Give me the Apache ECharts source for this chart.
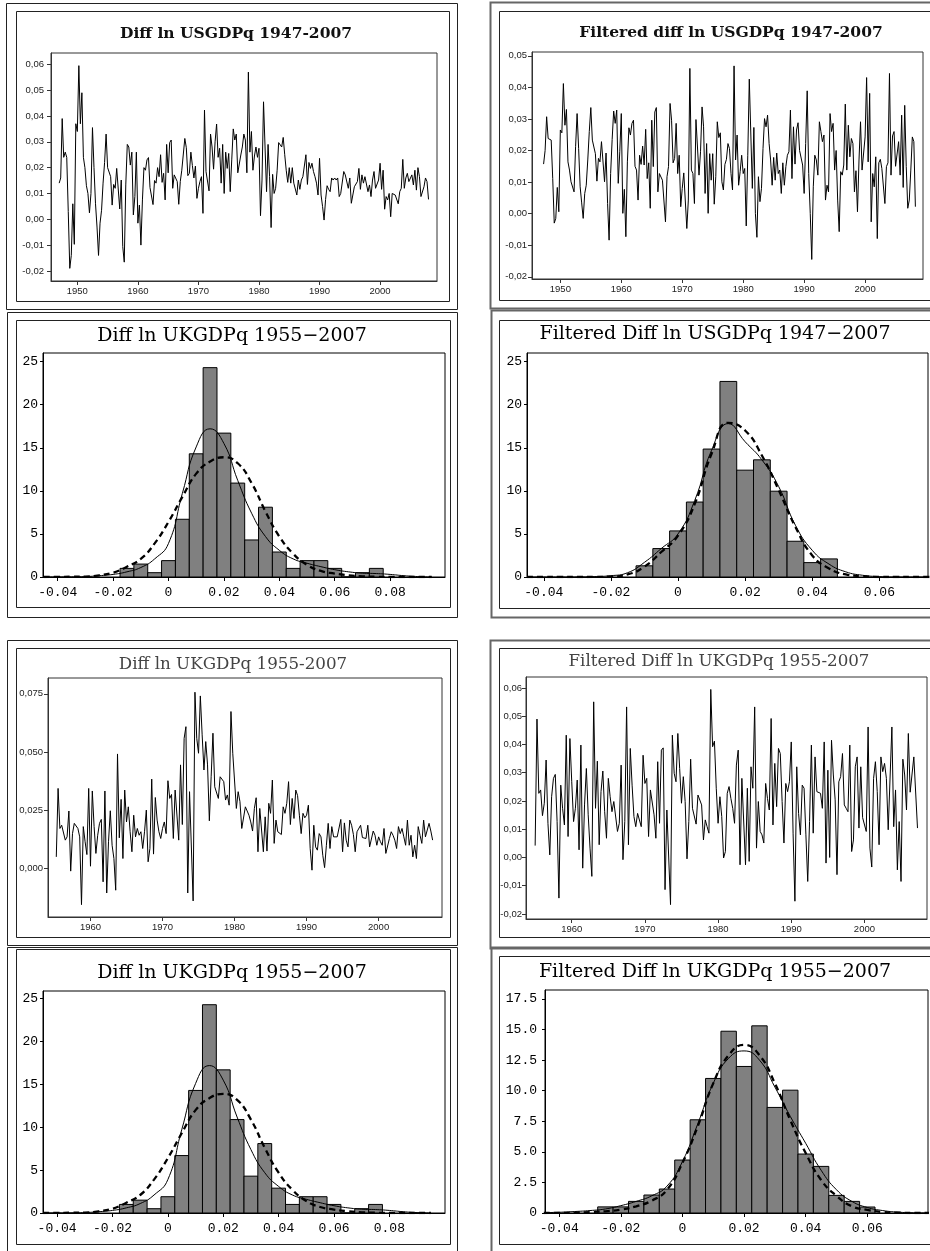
<!DOCTYPE html>
<html><head><meta charset="utf-8">
<script src="https://cdn.jsdelivr.net/npm/echarts@6/dist/echarts.min.js"></script>
<style>html,body{margin:0;padding:0;background:#fff}#c{width:930px;height:1251px}</style>
</head><body><div id="c"></div>
<script>
// ---------- time series data (quarterly) ----------
const usDiffStart = 1947.0;
const usDiff = [0.014,0.016,0.039,0.024,0.026,0.024,0.003,-0.019,-0.014,0.006,-0.0097,0.037,0.034,0.0595,0.037,0.049,0.024,0.020,0.013,0.010,0.0025,0.010,0.0355,0.020,0.006,-0.003,-0.014,-0.0015,0.0035,0.014,0.022,0.033,0.020,0.020,0.0165,0.0055,0.0135,0.012,0.0197,0.020,0.004,0.0152,-0.0106,-0.0166,0.0133,0.029,0.028,0.021,0.026,0.0017,0.0088,0.026,-0.0015,0.0055,-0.010,0.0075,0.020,0.019,0.023,0.0239,0.0123,0.0116,0.0057,0.015,0.014,0.020,0.0165,0.025,0.0143,0.0178,0.0075,0.029,0.018,0.0297,0.0307,0.012,0.0172,0.0172,0.0146,0.0058,0.0146,0.019,0.0185,0.0313,0.0277,0.0169,0.0178,0.026,0.0208,0.016,0.0206,0.0081,0.012,0.0146,0.0165,0.0023,0.0423,0.0185,0.0178,0.011,0.033,0.028,0.0194,0.030,0.0369,0.024,0.0275,0.014,0.029,0.010,0.026,0.0197,0.0255,0.0107,0.023,0.035,0.0307,0.033,0.018,0.018,0.0249,0.028,0.033,0.0307,0.018,0.057,0.026,0.034,0.019,0.0245,0.028,0.024,0.0275,0.0014,0.0152,0.0455,0.0455,0.0107,0.029,0.0165,-0.0032,0.0174,0.010,0.012,0.019,0.0297,0.029,0.028,0.0317,0.025,0.019,0.0143,0.020,0.014,0.020,0.014,0.0146,0.0094,0.0152,0.0116,0.0152,0.0165,0.017,0.025,0.0135,0.022,0.0197,0.0217,0.0185,0.0165,0.014,0.0094,0.0236,0.0094,0.005,-0.0003,0.0077,0.013,0.0116,0.0107,0.016,0.0152,0.016,0.0152,0.016,0.0088,0.010,0.0094,0.0185,0.0172,0.0172,0.012,0.016,0.0062,0.0055,0.0126,0.0126,0.0146,0.0197,0.0116,0.0172,0.014,0.0165,0.0165,0.0107,0.0133,0.0088,0.0152,0.0185,0.012,0.0126,0.0152,0.0217,0.0116,0.019,0.0039,0.0088,0.0075,0.010,0.001,0.010,0.010,0.0094,0.009,0.006,0.0107,0.012,0.0232,0.012,0.016,0.0178,0.0146,0.0146,0.0172,0.0133,0.019,0.0113,0.020,0.0165,0.0088,0.0094,0.0126,0.016,0.0146,0.0077];

const usFiltStart = 1947.25;
const usFilt = [0.0157,0.020,0.0307,0.0238,0.0241,0.0233,0.0111,-0.003,-0.0015,0.0083,0.0006,0.0265,0.0256,0.0412,0.028,0.033,0.0164,0.0138,0.0101,0.0096,0.0069,0.0212,0.0317,0.0206,0.0085,0.0034,-0.0015,0.0064,0.0090,0.0170,0.026,0.0336,0.0233,0.0233,0.019,0.0103,0.0175,0.0164,0.0228,0.0233,0.0101,0.0192,0.0032,-0.0084,0.0127,0.0235,0.0325,0.0286,0.0328,0.0096,0.0196,0.0317,0.0001,0.0077,-0.0073,0.0164,0.0272,0.0249,0.0286,0.0296,0.0150,0.0138,0.0043,0.0185,0.0156,0.0214,0.0154,0.0267,0.0111,0.0161,0.0017,0.0296,0.0149,0.0322,0.0336,0.0069,0.0127,0.0127,0.0106,0.0106,-0.0026,0.0117,0.0149,0.0349,0.0296,0.0161,0.0175,0.0286,0.0127,0.0185,0.0022,0.0080,0.0129,0.0133,-0.0047,0.0043,0.046,0.0138,0.0127,0.0032,0.0298,0.0296,0.0122,0.0196,0.0338,0.0275,0.0064,0.0222,0.0001,0.019,0.0106,0.019,0.0030,0.0117,0.0291,0.0241,0.0256,0.0101,0.0075,0.0156,0.0172,0.0222,0.0206,0.0127,0.0075,0.0468,0.0170,0.0249,0.0090,0.0133,0.0185,0.0127,0.0143,-0.0039,0.0185,0.0426,0.0431,0.0080,0.0273,0.0001,-0.0075,0.0117,0.0038,0.0080,0.0206,0.0301,0.0275,0.0312,0.0222,0.0170,0.0090,0.0178,0.0106,0.0192,0.0127,0.0138,0.0064,0.0161,0.0090,0.0149,0.0185,0.0196,0.0328,0.0111,0.0275,0.0157,0.0265,0.0288,0.020,0.0196,0.0154,0.0064,0.0222,0.0389,0.0127,0.0001,-0.0145,0.0085,0.0185,0.0170,0.0122,0.0291,0.026,0.0228,0.0249,0.0043,0.009,0.0069,0.0317,0.026,0.0286,0.0138,0.020,0.0043,-0.0057,0.0133,0.0122,0.0154,0.0347,0.0138,0.028,0.018,0.0238,0.0222,0.0069,0.0136,0.0006,0.017,0.0291,0.0138,0.0138,0.0243,0.0431,0.0164,0.0381,-0.0026,0.0127,0.0085,0.018,-0.0079,0.0161,0.0172,0.0143,0.0138,0.0032,0.0149,0.0161,0.0444,0.0122,0.0246,0.026,0.015,0.0149,0.0228,0.0122,0.0312,0.0083,0.0343,0.0149,0.0017,0.0043,0.0138,0.0243,0.0228,0.0022];

const ukDiffStart = 1955.25;
const ukDiff = [0.005,0.0344,0.0172,0.0186,0.0186,0.0122,0.0136,0.0247,-0.0011,0.015,0.0194,0.020,0.0172,0.0136,-0.0155,0.018,0.0115,0.006,0.0344,0.001,0.0333,0.018,0.0065,0.0143,0.0194,0.0211,-0.0057,0.0333,-0.0105,0.0115,0.0248,0.010,0.0043,-0.0093,0.0492,0.0132,0.0297,0.0043,0.0337,0.020,0.0265,0.0158,0.0072,0.0229,0.0136,0.0172,0.0143,0.0158,0.0086,0.0158,0.0251,0.0029,0.0086,0.0384,0.0062,0.0305,0.0208,0.0158,0.0129,0.0172,0.020,0.015,0.0377,0.0301,0.0318,0.0129,0.0337,0.033,0.0122,0.0445,0.0189,0.0559,0.0609,-0.0105,0.033,0.0323,-0.0139,0.0757,0.0559,0.0495,0.0741,0.0574,0.0423,0.0545,0.0445,0.0205,0.0394,0.0581,0.0351,0.0344,0.0301,0.0394,0.0402,0.0373,0.0294,0.0316,0.0272,0.0674,0.0495,0.0495,0.0258,0.033,0.0287,0.0172,0.0165,0.0265,0.0265,0.0229,0.020,0.0161,0.0258,0.0304,0.0072,0.0258,0.0251,0.0072,0.0222,0.0075,0.028,0.0237,0.038,0.0108,0.0208,0.0158,0.0158,0.0146,0.0265,0.0237,0.028,0.0373,0.0189,0.0301,0.0215,0.0337,0.0313,0.0229,0.015,0.0237,0.0218,0.0229,0.0272,0.0086,-0.0007,0.0186,0.0093,0.0079,0.015,0.0136,0.0057,0.0004,0.010,0.0194,0.0086,0.018,0.0136,0.0136,0.0136,0.0136,0.0211,0.0072,0.0196,0.0122,0.0093,0.0208,0.0186,0.0146,0.0072,0.0158,0.0165,0.0186,0.0133,0.0132,0.0129,0.0186,0.0093,0.010,0.0161,0.0143,0.010,0.0136,0.0115,0.010,0.0172,0.0065,0.0057,0.0129,0.0158,0.0143,0.0122,0.0086,0.018,0.015,0.0172,0.0136,0.010,0.0208,0.010,0.0143,0.005,0.010,0.0043,0.018,0.0143,0.0108,0.0208,0.0136,0.0143,0.0194,0.0161,0.0122];

const ukFiltStart = 1955.0;
const ukFilt = [0.0042,0.049,0.0227,0.0239,0.0148,0.0192,0.0345,0.0121,0.0009,0.0215,0.028,0.0294,0.0127,-0.0144,0.0256,0.0174,0.0115,0.0433,0.0074,0.0421,0.0268,0.0127,0.0174,0.0274,0.0027,0.0398,-0.0038,0.0186,0.0315,0.0151,0.0033,-0.0067,0.0551,0.0174,0.0341,0.0045,0.0233,0.0306,0.0162,0.0068,0.028,0.0215,0.0162,0.0198,0.0198,0.0092,0.0121,0.0327,-0.0008,0.0127,0.0533,0.0045,0.0386,0.0256,0.0145,0.0109,0.0156,0.0162,0.0109,0.0362,0.0262,0.028,0.0074,0.0239,0.0245,0.0151,0.0068,0.0339,0.0121,0.038,0.0388,-0.0114,0.0168,0.0162,-0.0167,0.0433,0.0298,0.0268,0.0439,0.0315,0.0192,0.0286,0.0198,-0.0005,0.0127,0.0348,0.0174,0.018,0.0118,0.0221,0.0215,0.0186,0.0062,0.0133,0.0109,0.0086,0.0595,0.0392,0.0412,0.0245,0.0121,0.0215,0.0145,-0.0002,0.0021,0.0227,0.0251,0.0209,0.0174,0.0121,0.0327,0.038,-0.0026,0.028,0.0286,-0.0026,0.0245,-0.0014,0.0321,0.0245,0.0533,0.0033,0.0198,0.0092,0.008,0.0051,0.0262,0.0209,0.0168,0.0492,0.0115,0.0333,0.018,0.0386,0.0368,0.0198,0.0051,0.0262,0.0233,0.0268,0.0409,0.0086,-0.0155,0.0321,0.0156,0.008,0.0256,0.0245,0.008,-0.0085,0.0127,0.0398,0.0086,0.0356,0.0233,0.0227,0.0227,0.0174,0.0409,-0.002,0.0309,0.0,0.0415,0.0292,0.0204,-0.0061,0.0268,0.0286,0.0368,0.0186,0.0174,0.0162,0.0398,0.0021,0.0062,0.0321,0.0356,0.0104,0.0321,0.0141,0.0136,0.0092,0.0462,0.0033,-0.0034,0.028,0.0339,0.0233,0.0045,0.0356,0.0304,0.0333,0.028,0.0098,0.0098,0.0462,0.0109,0.0239,-0.0044,0.0127,-0.0085,0.0348,0.0292,0.0168,0.0439,0.0231,0.0227,0.0356,0.0356,0.0104];

// ---------- histogram data (percent) ----------
const binWidth = 0.005;
const ukHistCenters = [-0.015,-0.01,-0.005,0,0.005,0.01,0.015,0.02,0.025,0.03,0.035,0.04,0.045,0.05,0.055,0.06,0.065,0.07,0.075];
const ukHistPct = [1.0,1.5,0.5,1.9,6.7,14.3,24.3,16.7,10.9,4.3,8.1,2.9,1.0,1.9,1.9,1.0,0,0.5,1.0];
const ukCurveX = [-0.045,-0.04,-0.035,-0.03,-0.025,-0.02,-0.015,-0.01,-0.005,0,0.005,0.01,0.015,0.02,0.025,0.03,0.035,0.04,0.045,0.05,0.055,0.06,0.065,0.07,0.075,0.08,0.085,0.09,0.095];
const ukKernel = [0,0.01,0.02,0.05,0.15,0.3,0.6,1.1,2.1,3.9,9.7,15.1,17.2,15.5,11.2,7.4,4.7,3.1,2.1,1.6,1.2,0.85,0.6,0.45,0.4,0.3,0.15,0.05,0];
const ukNormal = [0,0.01,0.03,0.05,0.2,0.5,1.2,2.1,3.9,6.4,9.3,12.0,13.4,13.9,13.2,10.9,7.6,4.7,2.7,1.4,0.7,0.4,0.2,0.08,0.03,0,0,0,0];

const usfHistCenters = [-0.01,-0.005,0,0.005,0.01,0.015,0.02,0.025,0.03,0.035,0.04,0.045];
const usfHistPct = [1.3,3.3,5.35,8.7,14.85,22.7,12.4,13.6,9.96,4.15,1.67,2.1];
const usfCurveX = [-0.045,-0.04,-0.035,-0.03,-0.025,-0.02,-0.015,-0.01,-0.005,0,0.005,0.01,0.015,0.02,0.025,0.03,0.035,0.04,0.045,0.05,0.055,0.06,0.065,0.07,0.075];
const usfKernel = [0,0,0,0.01,0.05,0.15,0.5,1.7,3.3,5.0,8.9,14.7,17.8,15.7,13.6,10.5,6.0,3.1,1.5,0.6,0.2,0.05,0,0,0];
const usfNormal = [0,0,0,0,0.01,0.05,0.3,1.2,2.9,4.8,8.5,14.3,17.9,17.0,14.1,10.1,5.8,2.5,1.0,0.3,0.1,0,0,0,0];

const ukfHistCenters = [-0.025,-0.02,-0.015,-0.01,-0.005,0,0.005,0.01,0.015,0.02,0.025,0.03,0.035,0.04,0.045,0.05,0.055,0.06];
const ukfHistPct = [0.5,0.5,0.95,1.47,1.96,4.33,7.62,11.0,14.86,11.98,15.3,8.63,10.04,4.82,3.81,1.44,0.95,0.49];
const ukfCurveX = [-0.045,-0.04,-0.035,-0.03,-0.025,-0.02,-0.015,-0.01,-0.005,0,0.005,0.01,0.015,0.02,0.025,0.03,0.035,0.04,0.045,0.05,0.055,0.06,0.065,0.07,0.075,0.08];
const ukfKernel = [0.03,0.06,0.12,0.2,0.33,0.6,0.95,1.4,2.2,4.2,7.3,10.6,12.65,13.25,12.5,10.3,7.9,5.7,3.5,1.9,0.95,0.45,0.2,0.07,0.02,0];
const ukfNormal = [0,0.01,0.03,0.07,0.14,0.27,0.55,1.0,1.9,4.1,7.1,10.6,12.9,13.75,12.9,10.6,7.6,4.9,2.7,1.4,0.55,0.25,0.08,0.03,0,0];

// ---------- tick labels ----------
const yearTicksUS = [1950,1960,1970,1980,1990,2000];
const yearTicksUK = [1960,1970,1980,1990,2000];
const usDiffYTicks = [-0.02,-0.01,0,0.01,0.02,0.03,0.04,0.05,0.06];
const usFiltYTicks = [-0.02,-0.01,0,0.01,0.02,0.03,0.04,0.05];
const ukDiffYTicks = [0,0.025,0.05,0.075];
const ukFiltYTicks = [-0.02,-0.01,0,0.01,0.02,0.03,0.04,0.05,0.06];
const histYTicks25 = [0,5,10,15,20,25];
const histYTicks175 = [0,2.5,5,7.5,10,12.5,15,17.5];
const histXTicksUK = [-0.04,-0.02,0,0.02,0.04,0.06,0.08];
const histXTicksUS = [-0.04,-0.02,0,0.02,0.04,0.06];

const titles = [
  'Diff ln USGDPq 1947-2007',
  'Filtered diff ln USGDPq 1947-2007',
  'Diff ln UKGDPq 1955\u22122007',
  'Filtered Diff ln USGDPq 1947\u22122007',
  'Diff ln UKGDPq 1955-2007',
  'Filtered Diff ln UKGDPq 1955-2007',
  'Diff ln UKGDPq 1955\u22122007',
  'Filtered Diff ln UKGDPq 1955\u22122007'
];

// ---------- build ----------
const quarterly = (start, arr) => arr.map((v, i) => [start + i * 0.25, v]);
const pairs = (xs, ys) => xs.map((x, i) => [x, ys[i]]);

const TSFONT = 'Liberation Sans';
const HFONT = 'Liberation Mono';

function tsX(g, min, max, ticks) {
  return { type: 'value', gridIndex: g, min, max,
    axisLine: { show: true, onZero: false, lineStyle: { color: '#333', width: 1 } },
    splitLine: { show: false },
    axisTick: { show: true, length: 4, customValues: ticks, lineStyle: { color: '#333' } },
    axisLabel: { customValues: ticks, fontFamily: TSFONT, fontSize: 9.5, color: '#222', margin: 5,
      formatter: v => String(Math.round(v)) } };
}
function tsY(g, min, max, ticks, dec, margin) {
  return { type: 'value', gridIndex: g, min, max,
    axisLine: { show: true, onZero: false, lineStyle: { color: '#333', width: 1 } },
    splitLine: { show: false },
    axisTick: { show: true, length: 4, customValues: ticks, lineStyle: { color: '#333' } },
    axisLabel: { customValues: ticks, fontFamily: TSFONT, fontSize: 9.5, color: '#222', margin,
      formatter: v => v.toFixed(dec).replace('.', ',') } };
}
function hX(g, min, max, ticks) {
  return { type: 'value', gridIndex: g, min, max,
    axisLine: { show: true, onZero: false, lineStyle: { color: '#000', width: 1 } },
    splitLine: { show: false },
    axisTick: { show: true, length: 4, customValues: ticks, lineStyle: { color: '#000' } },
    axisLabel: { customValues: ticks, fontFamily: HFONT, fontSize: 13, color: '#000', margin: 9,
      formatter: v => Math.abs(v) < 1e-9 ? '0' : v.toFixed(2) } };
}
function hY(g, min, max, ticks, dec, margin) {
  return { type: 'value', gridIndex: g, min, max,
    axisLine: { show: true, onZero: false, lineStyle: { color: '#000', width: 1 } },
    splitLine: { show: false },
    axisTick: { show: true, length: 3, customValues: ticks, lineStyle: { color: '#000' } },
    axisLabel: { customValues: ticks, fontFamily: HFONT, fontSize: 13, color: '#000', margin,
      formatter: v => Math.abs(v) < 1e-9 ? '0' : v.toFixed(dec) } };
}
function grid(left, top, width, height, color) {
  return { left, top, width, height, show: true, borderColor: color, borderWidth: 1,
    backgroundColor: '#fff', containLabel: false, outerBoundsMode: 'none' };
}
function tsSeries(g, data) {
  return { type: 'line', xAxisIndex: g, yAxisIndex: g, data, showSymbol: false, symbol: 'none',
    lineStyle: { color: '#000', width: 1 }, animation: false, z: 3 };
}
function barsSeries(g, centers, pct) {
  return { type: 'custom', xAxisIndex: g, yAxisIndex: g, data: pairs(centers, pct), animation: false, z: 2,
    renderItem: (params, api) => {
      const c = api.value(0), h = api.value(1);
      const p0 = api.coord([c - binWidth / 2, h]);
      const p1 = api.coord([c + binWidth / 2, 0]);
      return { type: 'rect', shape: { x: p0[0], y: p0[1], width: p1[0] - p0[0], height: p1[1] - p0[1] },
        style: { fill: '#808080', stroke: '#000', lineWidth: 1 } };
    } };
}
function curve(g, xs, ys, dashed) {
  return { type: 'line', xAxisIndex: g, yAxisIndex: g, data: pairs(xs, ys), showSymbol: false, symbol: 'none',
    smooth: 0.5, animation: false, z: 4,
    lineStyle: dashed ? { color: '#000', width: 2.3, type: [6, 4] } : { color: '#000', width: 1 } };
}

const frames = [
  [6, 3, 451, 306, '#222', 1], [16, 11, 433, 290, '#222', 1],
  [490, 2, 450, 306, '#666', 2], [499, 11, 440, 289, '#222', 1],
  [7, 312, 450, 305, '#222', 1], [16, 320, 434, 287, '#222', 1],
  [491, 310, 450, 307, '#666', 2], [499, 320, 440, 288, '#222', 1],
  [7, 640, 450, 305, '#222', 1], [16, 648, 434, 289, '#222', 1],
  [490, 640, 450, 308, '#666', 2], [499, 648, 440, 289, '#222', 1],
  [7, 947, 450, 310, '#222', 1], [16, 949, 434, 295, '#222', 1],
  [491, 947, 450, 310, '#666', 2], [499, 956, 440, 288, '#222', 1]
];
const titlePos = [
  [236, 34, 'bold 15.5px "DejaVu Serif"', '#111'],
  [731, 33, 'bold 15.5px "DejaVu Serif"', '#111'],
  [232, 336, '19px "DejaVu Serif"', '#000'],
  [715, 334, '19px "DejaVu Serif"', '#000'],
  [233, 665, '16.7px "DejaVu Serif"', '#444'],
  [719, 662, '16.7px "DejaVu Serif"', '#444'],
  [232, 973, '19px "DejaVu Serif"', '#000'],
  [715, 972, '19px "DejaVu Serif"', '#000']
];

const graphic = [];
frames.forEach(f => graphic.push({ type: 'rect', silent: true, z: 0,
  shape: { x: f[0] + 0.5, y: f[1] + 0.5, width: f[2], height: f[3] },
  style: { fill: null, stroke: f[4], lineWidth: f[5] } }));
titles.forEach((t, i) => graphic.push({ type: 'text', silent: true, z: 10,
  x: titlePos[i][0], y: titlePos[i][1],
  style: { text: t, font: titlePos[i][2], fill: titlePos[i][3], textAlign: 'center', textVerticalAlign: 'middle' } }));

const option = {
  backgroundColor: '#fff',
  animation: false,
  graphic,
  grid: [
    grid(51, 53, 386, 228, '#333'),
    grid(532, 52, 391, 227, '#333'),
    grid(43, 353, 402, 224, '#000'),
    grid(527, 353, 401, 224, '#000'),
    grid(48, 678, 394, 239, '#333'),
    grid(526, 677, 401, 242, '#333'),
    grid(43, 991, 402, 222, '#000'),
    grid(545, 990, 383, 223, '#000')
  ],
  xAxis: [
    tsX(0, 1945.65, 2009.4, yearTicksUS),
    tsX(1, 1945.35, 2009.5, yearTicksUS),
    hX(2, -0.0453, 0.0998, histXTicksUK),
    hX(3, -0.045, 0.0745, histXTicksUS),
    tsX(4, 1954.1, 2008.8, yearTicksUK),
    tsX(5, 1953.75, 2008.55, yearTicksUK),
    hX(6, -0.0451, 0.1001, histXTicksUK),
    hX(7, -0.0446, 0.0797, histXTicksUS)
  ],
  yAxis: [
    tsY(0, -0.0239, 0.0644, usDiffYTicks, 2, 7),
    tsY(1, -0.0207, 0.0512, usFiltYTicks, 2, 5),
    hY(2, 0, 26.0, histYTicks25, 0, 5),
    hY(3, 0, 26.0, histYTicks25, 0, 5),
    tsY(4, -0.0208, 0.0818, ukDiffYTicks, 3, 5),
    tsY(5, -0.0218, 0.0639, ukFiltYTicks, 2, 4),
    hY(6, 0, 25.9, histYTicks25, 0, 5),
    hY(7, 0, 18.23, histYTicks175, 1, 8)
  ],
  series: [
    tsSeries(0, quarterly(usDiffStart, usDiff)),
    tsSeries(1, quarterly(usFiltStart, usFilt)),
    barsSeries(2, ukHistCenters, ukHistPct),
    curve(2, ukCurveX, ukKernel, false),
    curve(2, ukCurveX, ukNormal, true),
    barsSeries(3, usfHistCenters, usfHistPct),
    curve(3, usfCurveX, usfKernel, false),
    curve(3, usfCurveX, usfNormal, true),
    tsSeries(4, quarterly(ukDiffStart, ukDiff)),
    tsSeries(5, quarterly(ukFiltStart, ukFilt)),
    barsSeries(6, ukHistCenters, ukHistPct),
    curve(6, ukCurveX, ukKernel, false),
    curve(6, ukCurveX, ukNormal, true),
    barsSeries(7, ukfHistCenters, ukfHistPct),
    curve(7, ukfCurveX, ukfKernel, false),
    curve(7, ukfCurveX, ukfNormal, true)
  ]
};
const chart = echarts.init(document.getElementById('c'), null, { renderer: 'canvas', width: 930, height: 1251 });
chart.setOption(option);
</script></body></html>
